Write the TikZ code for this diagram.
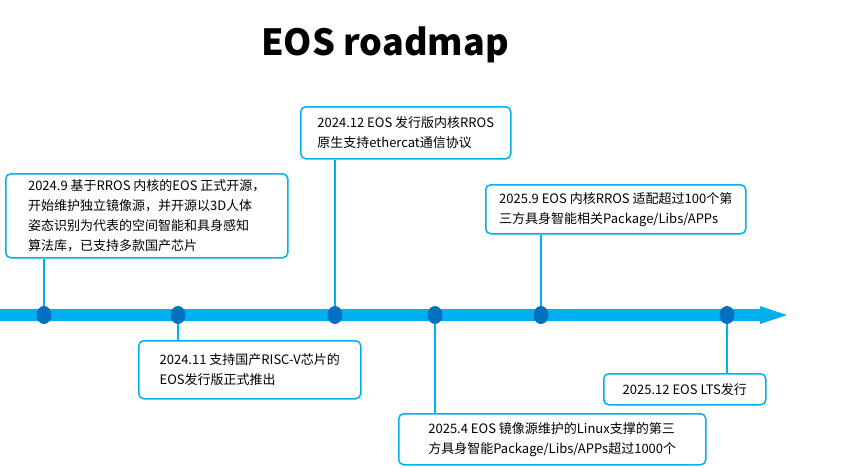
\documentclass[tikz,border=0pt]{standalone}
\usepackage{fontspec}
\usetikzlibrary{shapes.geometric}
\setmainfont{Noto Sans CJK SC}
\definecolor{lb}{RGB}{0,176,240}
\definecolor{db}{RGB}{0,112,192}
\begin{document}
\begin{tikzpicture}[x=1pt,y=-1pt,
  box/.style={draw=lb,line width=1.5pt,rounded corners=5pt,fill=white,align=left,anchor=north west,inner sep=4pt,font=\fontsize{13}{20}\selectfont},
  dot/.style={ellipse,fill=db,minimum width=15pt,minimum height=18pt,inner sep=0pt},
  conn/.style={draw=lb,line width=1.3pt}]
\useasboundingbox (0,0) rectangle (863,467);
\node[font=\bfseries\fontsize{36}{40}\selectfont] (title) at (385,45) {EOS roadmap};
\fill[lb] (0,309) -- (760,309) -- (760,306) -- (787,315) -- (760,324) -- (760,321) -- (0,321) -- cycle;
\node[box,minimum width=282pt,minimum height=84pt] (b1) at (5,173) {2024.9 基于RROS 内核的EOS 正式开源，\\开始维护独立镜像源，并开源以3D人体\\姿态识别为代表的空间智能和具身感知\\算法库，已支持多款国产芯片};
\node[box,minimum width=222pt,minimum height=58pt] (b2) at (138,340) {2024.11 支持国产RISC-V芯片的\\EOS发行版正式推出};
\node[box,minimum width=210pt,minimum height=52pt] (b3) at (300,106) {2024.12 EOS 发行版内核RROS\\原生支持ethercat通信协议};
\node[box,minimum width=307pt,minimum height=51pt] (b4) at (398,413) {2025.4 EOS 镜像源维护的Linux支撑的第三\\方具身智能Package/Libs/APPs超过1000个};
\node[box,minimum width=260pt,minimum height=49pt] (b5) at (485,184) {2025.9 EOS 内核RROS 适配超过100个第\\三方具身智能相关Package/Libs/APPs};
\node[box,minimum width=162pt,minimum height=31pt] (b6) at (603,373) {2025.12 EOS LTS发行};
\foreach \n/\x/\b/\s in {d1/44/b1/south,d2/178/b2/north,d3/335/b3/south,d4/435/b4/north,d5/541/b5/south,d6/727/b6/north}{
  \node[dot] (\n) at (\x,315) {};
  \draw[conn] (\n) -- (\n |- \b.\s);
}
\end{tikzpicture}
\end{document}
